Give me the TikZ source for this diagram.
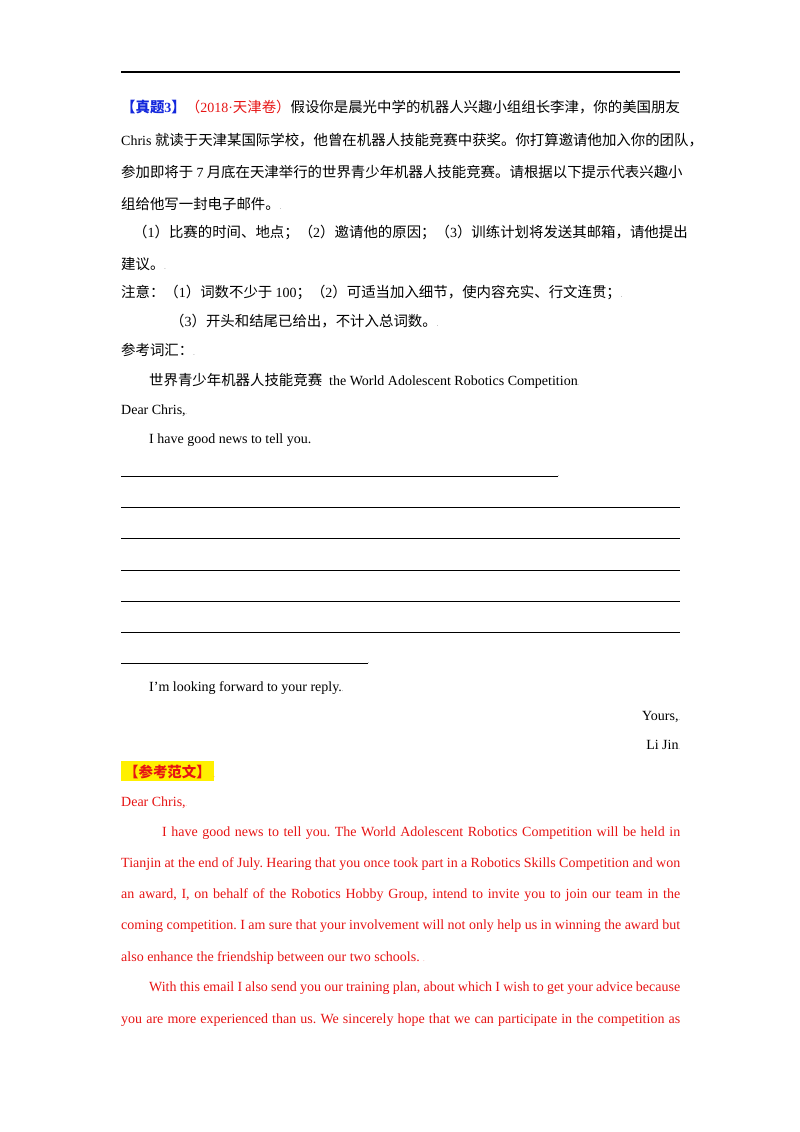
\documentclass[tikz,border=0pt]{standalone}
\usepackage{fontspec}
\setmainfont{Liberation Serif}
\newfontfamily\cjk[Scale=1.03]{Noto Sans CJK SC}
\definecolor{rd}{RGB}{230,20,20}
\definecolor{bl}{RGB}{20,40,220}
\definecolor{hl}{RGB}{255,240,0}
\frenchspacing
\begin{document}
\begin{tikzpicture}[x=1pt,y=-1pt,
  t/.style={anchor=base west,inner sep=0pt,font=\fontsize{14}{16}\selectfont},
  r/.style={t,text=rd},
  ln/.style={line width=0.6pt}]
\useasboundingbox (0,0) rectangle (800,1132);
\draw[line width=1.2pt] (121,72) coordinate (h1) -- (680,72) coordinate (h2);
\node[t] (l1) at (121,112) {\cjk\textcolor{bl}{\bfseries【真题}\textcolor{bl}{\rmfamily\bfseries 3}\textcolor{bl}{\bfseries】}\textcolor{rd}{（{\rmfamily 2018·}天津卷）}假设你是晨光中学的机器人兴趣小组组长李津，你的美国朋友};
\node[t] (l2) at (121,145) {Chris {\cjk 就读于天津某国际学校，他曾在机器人技能竞赛中获奖。你打算邀请他加入你的团队，}};
\node[t] (l3) at (121,177) {\cjk 参加即将于 {\rmfamily 7} 月底在天津举行的世界青少年机器人技能竞赛。请根据以下提示代表兴趣小};
\node[t] (l4) at (121,209) {\cjk 组给他写一封电子邮件。{\tiny .}};
\node[t] (l5) at (133,237) {\cjk （{\rmfamily 1}）比赛的时间、地点；（{\rmfamily 2}）邀请他的原因；（{\rmfamily 3}）训练计划将发送其邮箱，请他提出};
\node[t] (l6) at (121,269) {\cjk 建议。{\tiny .}};
\node[t] (l7) at (121,297) {\cjk 注意：（{\rmfamily 1}）词数不少于 {\rmfamily 100}；（{\rmfamily 2}）可适当加入细节，使内容充实、行文连贯；{\tiny .}};
\node[t] (l8) at (170,326) {\cjk （{\rmfamily 3}）开头和结尾已给出，不计入总词数。{\tiny .}};
\node[t] (l9) at (121,355) {\cjk 参考词汇：{\tiny .}};
\node[t] (l10) at (149,385) {{\cjk 世界青少年机器人技能竞赛}\ \ the World Adolescent Robotics Competition{\tiny .}};
\node[t] (l11) at (121,414) {Dear Chris,{\tiny .}};
\node[t] (l12) at (149,443) {I have good news to tell you.};
\draw[ln] (121,476) coordinate (a1) -- (558,476) coordinate (a2);
\node[t] at (558,476) {\tiny .};
\foreach \y in {507,538,570,601,632}{\draw[ln] (121,\y) -- (680,\y);}
\draw[ln] (121,663) coordinate (b1) -- (368,663) coordinate (b2);
\node[t] at (368,663) {\tiny .};
\node[t] (l13) at (149,691) {I'm looking forward to your reply.{\tiny .}};
\node[t,anchor=base east] (l14) at (680,720) {Yours,{\tiny .}};
\node[t,anchor=base east] (l15) at (680,749) {Li Jin{\tiny .}};
\node[t] (l16) at (121,777) {\colorbox{hl}{\cjk\bfseries\textcolor{rd}{【参考范文】}}\textcolor{rd}{\tiny .}};
\node[r] (l17) at (121,806) {Dear Chris,{\tiny .}};
\node[r] at (162,836) {\makebox[518pt][s]{I have good news to tell you. The World Adolescent Robotics Competition will be held in}};
\node[r] at (121,867) {\makebox[559pt][s]{Tianjin at the end of July. Hearing that you once took part in a Robotics Skills Competition and won}};
\node[r] at (121,898) {\makebox[559pt][s]{an award, I, on behalf of the Robotics Hobby Group, intend to invite you to join our team in the}};
\node[r] at (121,929) {\makebox[559pt][s]{coming competition. I am sure that your involvement will not only help us in winning the award but}};
\node[r] at (121,961) {also enhance the friendship between our two schools. {\tiny .}};
\node[r] at (149,991) {\makebox[531pt][s]{With this email I also send you our training plan, about which I wish to get your advice because}};
\node[r] at (121,1023) {\makebox[559pt][s]{you are more experienced than us. We sincerely hope that we can participate in the competition as}};
\end{tikzpicture}
\end{document}
